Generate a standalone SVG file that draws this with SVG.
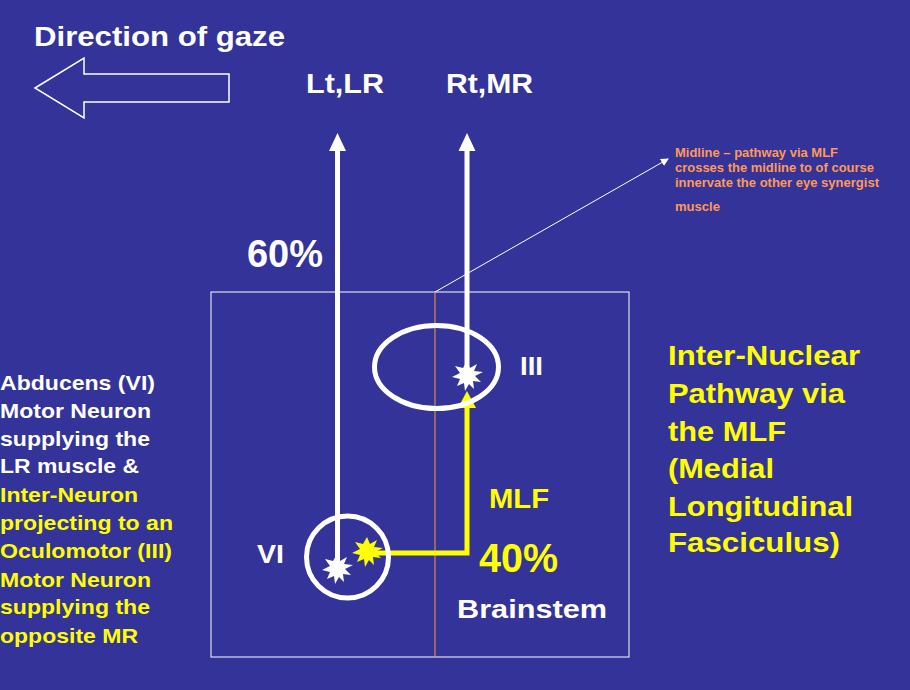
<svg xmlns="http://www.w3.org/2000/svg" width="910" height="690" viewBox="0 0 910 690">
<defs>
<style>
text{font-family:"Liberation Sans",Arial,sans-serif;font-weight:bold}
.w{fill:#ffffff}.y{fill:#ffff00}
.t28{font-size:28px}
.t26{font-size:26px}
.left{font-size:21px}
.right{font-size:28px;fill:#ffff00}
.note{font-size:12px;fill:#ff9955}
</style>
<marker id="ah" markerWidth="8" markerHeight="8" refX="7" refY="4" orient="auto" markerUnits="userSpaceOnUse">
<path d="M0,0 L8,4 L0,8 Z" fill="#ffffff"/>
</marker>
</defs>
<rect width="910" height="690" fill="#333399"/>
<text class="w t28" x="34" y="46" textLength="251" lengthAdjust="spacingAndGlyphs">Direction of gaze</text>
<polygon points="35,88 84,58 84,74 229,74 229,102 84,102 84,118" fill="none" stroke="#ffffff" stroke-width="1.5"/>
<text class="w t28" x="306" y="93" textLength="78" lengthAdjust="spacingAndGlyphs">Lt,LR</text>
<text class="w t28" x="446" y="93" textLength="87" lengthAdjust="spacingAndGlyphs">Rt,MR</text>
<g id="brainstem-box">
<rect x="211" y="292" width="418" height="365" fill="none" stroke="#ffffff" stroke-width="1"/>
<line x1="435" y1="292" x2="435" y2="657" stroke="#ff9933" stroke-width="1"/>
</g>
<g id="connectors">
<line x1="337.5" y1="150" x2="337.5" y2="562" stroke="#ffffff" stroke-width="5"/>
<polygon points="337.5,133 346,151 329,151" fill="#ffffff"/>
<line x1="467" y1="150" x2="467" y2="375" stroke="#ffffff" stroke-width="5"/>
<polygon points="467,133 475.5,151 458.5,151" fill="#ffffff"/>
<polyline points="375,553 467,553 467,405" fill="none" stroke="#ffff00" stroke-width="5"/>
<polygon points="467,391 476,408 458,408" fill="#ffff00"/>
<line x1="435" y1="292" x2="668" y2="159" stroke="#ffffff" stroke-width="1" marker-end="url(#ah)"/>
</g>
<g id="node-III">
<ellipse cx="436.5" cy="367" rx="62" ry="41.5" fill="none" stroke="#ffffff" stroke-width="5"/>
<polygon fill="#ffffff" points="467,361 470,368 477,364 474,371 483,372 475,376 481,382 473,381 474,389 469,384 465,391 464,383 457,386 460,379 452,377 460,373 455,366 463,368"/>
<text class="w t26" x="520" y="375" textLength="23" lengthAdjust="spacingAndGlyphs">III</text>
</g>
<g id="node-VI">
<circle cx="347.5" cy="557" r="41" fill="none" stroke="#ffffff" stroke-width="5"/>
<polygon fill="#ffffff" points="337,554 340,561 347,557 344,564 353,565 345,569 351,575 343,574 344,582 339,577 335,584 334,576 327,579 330,572 322,570 330,566 325,559 333,561"/>
<polygon fill="#ffff00" points="367,537 370,544 377,540 374,547 383,548 375,552 381,558 373,557 374,565 369,560 365,567 364,559 357,562 360,555 352,553 360,549 355,542 363,544"/>
<text class="w t26" x="257" y="563" textLength="27" lengthAdjust="spacingAndGlyphs">VI</text>
</g>
<text class="w" x="247" y="267" font-size="39" textLength="76" lengthAdjust="spacingAndGlyphs">60%</text>
<text class="y t28" x="489" y="508" textLength="60" lengthAdjust="spacingAndGlyphs">MLF</text>
<text class="y" x="479" y="572" font-size="40" textLength="79" lengthAdjust="spacingAndGlyphs">40%</text>
<text class="w t26" x="457" y="618" textLength="150" lengthAdjust="spacingAndGlyphs">Brainstem</text>
<g id="note">
<text class="note" x="675" y="157" textLength="163" lengthAdjust="spacingAndGlyphs">Midline – pathway via MLF</text>
<text class="note" x="675" y="172" textLength="199" lengthAdjust="spacingAndGlyphs">crosses the midline to of course</text>
<text class="note" x="675" y="187" textLength="204" lengthAdjust="spacingAndGlyphs">innervate the other eye synergist</text>
<text class="note" x="675" y="211" textLength="45" lengthAdjust="spacingAndGlyphs">muscle</text>
</g>
<g id="left-label" class="left">
<text class="w" x="0" y="390" textLength="155" lengthAdjust="spacingAndGlyphs">Abducens (VI)</text>
<text class="w" x="0" y="418" textLength="151" lengthAdjust="spacingAndGlyphs">Motor Neuron</text>
<text class="w" x="0" y="446" textLength="150" lengthAdjust="spacingAndGlyphs">supplying the</text>
<text class="w" x="0" y="473" textLength="139" lengthAdjust="spacingAndGlyphs">LR muscle &amp;</text>
<text class="y" x="0" y="502" textLength="138" lengthAdjust="spacingAndGlyphs">Inter-Neuron</text>
<text class="y" x="0" y="530" textLength="173" lengthAdjust="spacingAndGlyphs">projecting to an</text>
<text class="y" x="0" y="558" textLength="172" lengthAdjust="spacingAndGlyphs">Oculomotor (III)</text>
<text class="y" x="0" y="587" textLength="151" lengthAdjust="spacingAndGlyphs">Motor Neuron</text>
<text class="y" x="0" y="614" textLength="150" lengthAdjust="spacingAndGlyphs">supplying the</text>
<text class="y" x="0" y="643" textLength="138" lengthAdjust="spacingAndGlyphs">opposite MR</text>
</g>
<g id="right-label" class="right">
<text x="668" y="365" textLength="192" lengthAdjust="spacingAndGlyphs">Inter-Nuclear</text>
<text x="668" y="403" textLength="177" lengthAdjust="spacingAndGlyphs">Pathway via</text>
<text x="668" y="441" textLength="118" lengthAdjust="spacingAndGlyphs">the MLF</text>
<text x="668" y="478" textLength="106" lengthAdjust="spacingAndGlyphs">(Medial</text>
<text x="668" y="516" textLength="185" lengthAdjust="spacingAndGlyphs">Longitudinal</text>
<text x="668" y="552" textLength="172" lengthAdjust="spacingAndGlyphs">Fasciculus)</text>
</g>
</svg>
